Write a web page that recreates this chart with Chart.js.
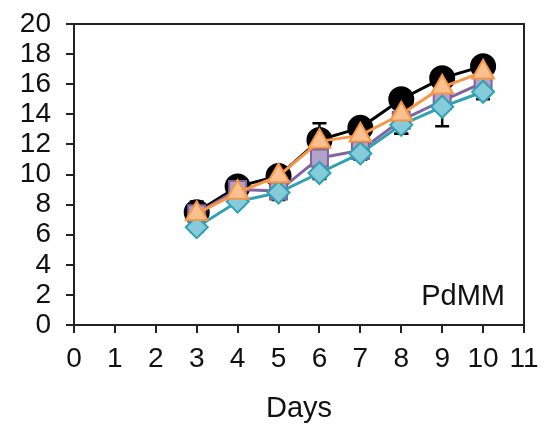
<!DOCTYPE html>
<html>
<head>
<meta charset="utf-8">
<script src="https://cdn.jsdelivr.net/npm/chart.js@4/dist/chart.umd.min.js"></script>
<style>
html,body{margin:0;padding:0;background:#fff;}
#wrap{width:544px;height:430px;}
</style>
</head>
<body>
<div id="wrap"><canvas id="c" width="544" height="430"></canvas></div>
<script>
const days = [3, 4, 5, 6, 7, 8, 9, 10];
const xTicks = [0,1,2,3,4,5,6,7,8,9,10,11];
const yTicks = [0,2,4,6,8,10,12,14,16,18,20];

const blackVals  = [7.5, 9.2, 9.9, 12.3, 13.1, 15.0, 16.4, 17.2];
const purpleVals = [7.4, 9.0, 8.9, 11.1, 11.6, 13.6, 14.9, 16.1];
const orangeVals = [7.4, 8.8, 9.9, 12.2, 12.6, 14.0, 15.8, 16.8];
const cyanVals   = [6.5, 8.2, 8.8, 10.1, 11.4, 13.3, 14.5, 15.5];

const blackErr  = [0.7, 0.3, 0.3, 1.1, 0.4, 0.4, 0.4, 0.3];
const purpleErr = [0.4, 0.3, 0.6, 0.5, 0.4, 0.9, 0.5, 0.4];
const orangeErr = [0.4, 0.3, 0.3, 0.4, 0.4, 0.5, 0.4, 0.3];
const cyanErr   = [0.3, 0.3, 0.4, 0.4, 0.4, 0.6, 1.3, 0.5];

const panelLabel = "PdMM";
const xTitle = "Days";
const FONT = '"Liberation Sans", Arial, sans-serif';

function pts(vals){ return days.map((d,i)=>({x:d, y:vals[i]})); }

const errPlugin = {
  id:'errbars',
  beforeDatasetsDraw(chart){
    const ctx = chart.ctx, xs = chart.scales.x, ys = chart.scales.y;
    const errs = [blackErr, purpleErr, cyanErr, orangeErr];
    const vals = [blackVals, purpleVals, cyanVals, orangeVals];
    ctx.save();
    ctx.strokeStyle = '#000';
    ctx.lineWidth = 2.5;
    errs.forEach((e,k)=>{
      days.forEach((d,i)=>{
        const px = xs.getPixelForValue(d);
        const pHi = ys.getPixelForValue(vals[k][i]+e[i]);
        const pLo = ys.getPixelForValue(vals[k][i]-e[i]);
        ctx.beginPath();
        ctx.moveTo(px,pHi); ctx.lineTo(px,pLo);
        ctx.moveTo(px-7,pHi); ctx.lineTo(px+7,pHi);
        ctx.moveTo(px-7,pLo); ctx.lineTo(px+7,pLo);
        ctx.stroke();
      });
    });
    ctx.restore();
  },
  afterDraw(chart){
    const ctx = chart.ctx, a = chart.chartArea;
    ctx.save();
    ctx.strokeStyle = '#222';
    ctx.lineWidth = 2;
    ctx.beginPath();
    ctx.moveTo(a.left, a.top); ctx.lineTo(a.right, a.top); ctx.lineTo(a.right, a.bottom);
    ctx.stroke();
    ctx.fillStyle = '#111';
    ctx.font = '29px ' + FONT;
    ctx.textAlign = 'right';
    ctx.textBaseline = 'middle';
    ctx.fillText(panelLabel, a.right - 19, a.bottom - 28);
    ctx.restore();
  }
};

new Chart(document.getElementById('c'), {
  type:'line',
  data:{
    datasets:[
      {label:'A', data:pts(blackVals), borderColor:'#000', backgroundColor:'#000', borderWidth:3,
       pointStyle:'circle', pointRadius:11.5, pointBorderColor:'#000', pointBackgroundColor:'#000', order:4},
      {label:'B', data:pts(purpleVals), borderColor:'#8064A2', backgroundColor:'#B3A2C7', borderWidth:3,
       pointStyle:'rect', pointRadius:12, pointBorderColor:'#8064A2', pointBackgroundColor:'#B3A2C7', pointBorderWidth:2, order:3},
      {label:'C', data:pts(cyanVals), borderColor:'#31A0B5', backgroundColor:'#86CBDA', borderWidth:3,
       pointStyle:'rectRot', pointRadius:11, pointBorderColor:'#31A0B5', pointBackgroundColor:'#86CBDA', pointBorderWidth:2, order:2},
      {label:'D', data:pts(orangeVals), borderColor:'#F79646', backgroundColor:'#FAC08F', borderWidth:3,
       pointStyle:'triangle', pointRadius:12.5, pointBorderColor:'#F79646', pointBackgroundColor:'#FAC08F', pointBorderWidth:2, order:1}
    ]
  },
  options:{
    responsive:false,
    animation:false,
    layout:{padding:{left:0, right:20, top:24, bottom:0}},
    plugins:{legend:{display:false}, tooltip:{enabled:false}},
    elements:{line:{tension:0}},
    scales:{
      x:{
        type:'linear', min:0, max:11,
        afterBuildTicks(s){ s.ticks = xTicks.map(v=>({value:v})); },
        afterFit(s){ s.height = 105; s.paddingLeft = 0; s.paddingRight = 0; },
        grid:{drawOnChartArea:false, drawTicks:true, tickLength:8, color:'#222', lineWidth:2},
        border:{color:'#222', width:2},
        ticks:{color:'#111', padding:9, font:{size:28, family:FONT}, maxRotation:0, autoSkip:false},
        title:{display:true, text:xTitle, color:'#111', padding:{top:10}, font:{size:29, family:FONT}}
      },
      y:{
        type:'linear', min:0, max:20,
        afterBuildTicks(s){ s.ticks = yTicks.map(v=>({value:v})); },
        afterFit(s){ s.width = 74; s.paddingTop = 0; s.paddingBottom = 0; },
        grid:{drawOnChartArea:false, drawTicks:true, tickLength:8, color:'#222', lineWidth:2},
        border:{color:'#222', width:2},
        ticks:{color:'#111', padding:15, font:{size:28, family:FONT}, autoSkip:false}
      }
    }
  },
  plugins:[errPlugin]
});
</script>
</body>
</html>
